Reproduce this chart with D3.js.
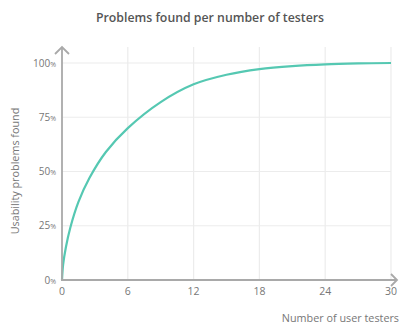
<!DOCTYPE html>
<html>
<head>
<meta charset="utf-8">
<script src="https://cdn.jsdelivr.net/npm/d3@7"></script>
<style>
  body { margin: 0; background: #fff; }
  svg { display: block; font-family: "Open Sans", sans-serif; }
</style>
</head>
<body>
<svg id="chart"></svg>
<script>
// values
const testers = [0, 0.1, 0.35, 0.75, 1.5, 2.5, 4, 6, 9, 12, 15, 18, 21, 24, 27, 30];
const found = [0, 7, 15, 24, 36, 47, 59, 70, 82, 90.2, 94.6, 97.2, 98.6, 99.4, 99.8, 100];
const xTicks = [0, 6, 12, 18, 24, 30];
const yTicks = [0, 25, 50, 75, 100];

const width = 403, height = 327;
const svg = d3.select("#chart").attr("width", width).attr("height", height);

const x = d3.scaleLinear().domain([0, 30]).range([62, 391]);
const y = d3.scaleLinear().domain([0, 100]).range([280, 63]);
const plotTop = 47;

const grid = svg.append("g");
// vertical grid
grid.selectAll("line.v")
    .data(xTicks.slice(1))
    .join("line")
    .attr("x1", d => x(d)).attr("x2", d => x(d))
    .attr("y1", plotTop).attr("y2", y(0))
    .attr("stroke", "#ececec").attr("stroke-width", 1.2);
// horizontal grid
grid.selectAll("line.h")
    .data(yTicks.slice(1))
    .join("line")
    .attr("x1", x(0)).attr("x2", x(30))
    .attr("y1", d => y(d)).attr("y2", d => y(d))
    .attr("stroke", "#ececec").attr("stroke-width", 1.2);

// the curve
const line = d3.line()
    .x((d, i) => x(testers[i]))
    .y(d => y(d))
    .curve(d3.curveCatmullRom.alpha(0.5));

svg.append("path")
    .datum(found)
    .attr("d", line)
    .attr("fill", "none")
    .attr("stroke", "#55c8b2")
    .attr("stroke-width", 2.2);

// axes with arrows
const axisColor = "#a9a9a9";
const axes = svg.append("g").attr("stroke", axisColor).attr("stroke-width", 1.8).attr("fill", "none");
axes.append("line").attr("x1", x(0)).attr("x2", x(0)).attr("y1", y(0)).attr("y2", plotTop);
axes.append("path").attr("d", `M${x(0) - 7},${plotTop + 7}L${x(0)},${plotTop}L${x(0) + 7},${plotTop + 7}`);
axes.append("line").attr("x1", x(0) - 1).attr("x2", 397).attr("y1", y(0)).attr("y2", y(0));
axes.append("path").attr("d", `M${397 - 6},${y(0) - 6}L397,${y(0)}L${397 - 6},${y(0) + 6}`);

// tick labels
const textColor = "#777";
svg.append("g")
    .selectAll("text")
    .data(xTicks)
    .join("text")
    .attr("x", d => x(d))
    .attr("y", 295)
    .attr("text-anchor", "middle")
    .attr("font-size", 10.5)
    .attr("fill", textColor)
    .text(d => d);

const yl = svg.append("g")
    .selectAll("text")
    .data(yTicks)
    .join("text")
    .attr("x", 56)
    .attr("y", d => y(d) + 3.5)
    .attr("text-anchor", "end")
    .attr("font-size", 10)
    .attr("fill", textColor);
yl.append("tspan").text(d => d);
yl.append("tspan").attr("font-size", 7).text("%");

// titles
svg.append("text")
    .attr("x", 210)
    .attr("y", 22)
    .attr("text-anchor", "middle")
    .attr("font-size", 12.3)
    .attr("font-weight", 600)
    .attr("fill", "#555")
    .text("Problems found per number of testers");

svg.append("text")
    .attr("transform", "translate(19,171) rotate(-90)")
    .attr("text-anchor", "middle")
    .attr("font-size", 10.8)
    .attr("fill", textColor)
    .text("Usability problems found");

svg.append("text")
    .attr("x", 399)
    .attr("y", 322)
    .attr("text-anchor", "end")
    .attr("font-size", 10.8)
    .attr("fill", textColor)
    .text("Number of user testers");
</script>
</body>
</html>
